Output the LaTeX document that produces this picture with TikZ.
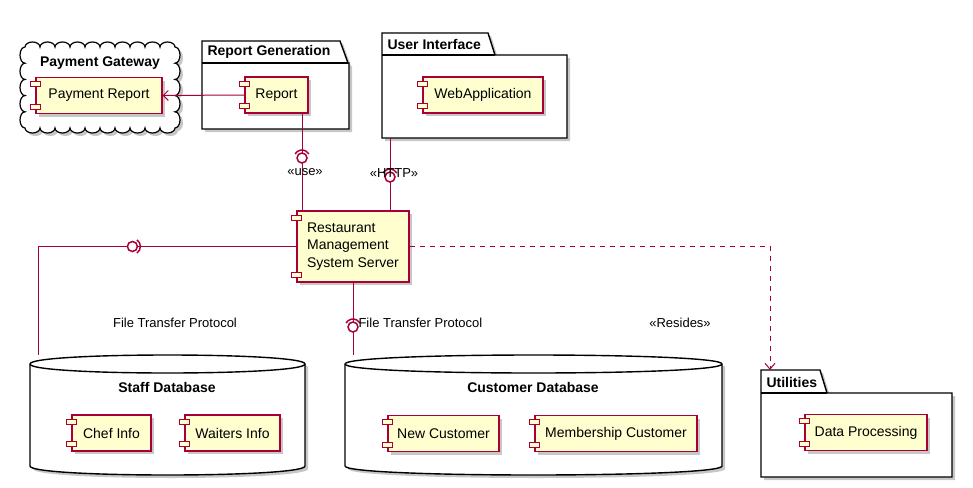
\documentclass[tikz,border=0pt]{standalone}
\usepackage{fontspec}
\setmainfont{Liberation Sans}
\usetikzlibrary{arrows.meta,calc,shadows}
\definecolor{umlred}{HTML}{A80036}
\definecolor{umlfill}{HTML}{FEFECE}
\tikzset{
  every node/.append style={font=\fontsize{14}{17.5}\selectfont},
  umlshadow/.style={drop shadow={shadow xshift=3pt,shadow yshift=-3pt,fill=black,opacity=0.22}},
  comp/.style={draw=umlred,fill=umlfill,line width=1.2pt,minimum height=36pt,inner sep=0pt,umlshadow},
  plug/.style={draw=umlred,fill=umlfill,line width=1pt},
  pkg/.style={draw=black,fill=white,line width=1.4pt,umlshadow},
  title/.style={font=\bfseries\fontsize{14}{17}\selectfont},
  lbl/.style={font=\fontsize{13}{16}\selectfont},
  wire/.style={umlred,line width=1pt},
  lolly/.style={umlred,line width=1.5pt},
}
\newcommand{\plugs}[1]{%
  \draw[plug] ($(#1.north west)+(-5,5)$) rectangle +(10,5);
  \draw[plug] ($(#1.south west)+(-5,-10)$) rectangle +(10,5);}

\begin{document}
\begin{tikzpicture}[x=1pt,y=-1pt,>=Stealth]
  \useasboundingbox (0,0) rectangle (973,487);
  % containers
  \draw[pkg,line width=1.2pt] (25,47)
    \foreach \i in {1,...,10}{ arc[start angle=180,end angle=0,x radius=7.5pt,y radius=5pt] }
    \foreach \i in {1,...,5}{ arc[start angle=90,end angle=-90,x radius=5pt,y radius=8.1pt] }
    \foreach \i in {1,...,10}{ arc[start angle=0,end angle=-180,x radius=7.5pt,y radius=5pt] }
    \foreach \i in {1,...,5}{ arc[start angle=-90,end angle=-270,x radius=5pt,y radius=8.1pt] }
    -- cycle;
  \node[title] (pgTitle) at (100,63) {Payment Gateway};

  \draw[pkg] (202,41) -- (340,41) -- (348,63) -- (349,63) -- (349,129) -- (202,129) -- cycle;
  \draw[line width=1.4pt] (202,63) -- (348,63);
  \node[title,anchor=west] (rgTitle) at (204,52) {Report Generation};

  \draw[pkg] (382,33) -- (488,33) -- (495,55) -- (567,55) -- (567,138) -- (382,138) -- cycle;
  \draw[line width=1.4pt] (382,55) -- (495,55);
  \node[title,anchor=west] (uiTitle) at (384,44) {User Interface};

  \draw[pkg] (761,370) -- (820,370) -- (827,393) -- (952,393) -- (952,477) -- (761,477) -- cycle;
  \draw[line width=1.4pt] (761,393) -- (827,393);
  \node[title,anchor=west] (utTitle) at (763,382) {Utilities};

  \draw[pkg] (30,364) -- (30,466) .. controls (30,478) and (305,478) .. (305,466)
    -- (305,364) .. controls (305,352) and (30,352) .. (30,364) -- cycle;
  \draw[line width=1.4pt] (30,364) .. controls (30,376) and (305,376) .. (305,364);
  \node[title] (sdTitle) at (167,387) {Staff Database};

  \draw[pkg] (345,364) -- (345,466) .. controls (345,478) and (722,478) .. (722,466)
    -- (722,364) .. controls (722,352) and (345,352) .. (345,364) -- cycle;
  \draw[line width=1.4pt] (345,364) .. controls (345,376) and (722,376) .. (722,364);
  \node[title] (cdTitle) at (533,387) {Customer Database};

  % components
  \node[comp,minimum width=126pt] (payrep) at (99,95.5) {Payment Report};
  \node[comp,minimum width=63pt] (report) at (276.5,95) {Report};
  \node[comp,minimum width=120pt] (webapp) at (483,95) {WebApplication};
  \node[comp,minimum width=112pt,minimum height=71pt,align=left] (server) at (353,246.5)
    {Restaurant\\Management\\System Server};
  \node[comp,minimum width=79pt] (chef) at (111.5,433) {Chef Info};
  \node[comp,minimum width=95pt] (waiters) at (232.5,433) {Waiters Info};
  \node[comp,minimum width=111pt] (newcust) at (443.5,433.5) {New Customer};
  \node[comp,minimum width=162pt] (member) at (616,433.5) {Membership Customer};
  \node[comp,minimum width=122pt] (dataproc) at (866,432.5) {Data Processing};
  \foreach \c in {payrep,report,webapp,server,chef,waiters,newcust,member,dataproc}
    {\plugs{\c}}

  % connectors
  \coordinate (useC) at (302,158);
  \coordinate (httpC) at (390,177);
  \coordinate (uiBottom) at (390,138);
  \coordinate (ftpL) at ($(server.west)+(-164,0)$);
  \coordinate (staffTop) at (38,355);
  \coordinate (ftpB) at (353,327);
  \coordinate (custTop) at (353,355);
  \coordinate (utilTop) at (770,370);

  \draw[wire,-{Straight Barb[length=5pt,width=10pt]}] (report.west) -- (payrep.east);
  \draw[wire] (report.south -| useC) -- (useC |- server.north);
  \draw[wire] (uiBottom) -- (uiBottom |- server.north);
  \draw[wire] (server.west) -| (staffTop);
  \draw[wire] (server.south) -- (custTop);
  \draw[wire,dash pattern=on 5pt off 5pt,-{Straight Barb[length=6pt,width=10pt]}]
    (server.east) -| (utilTop);

  % lollipops
  \foreach \p in {useC,httpC,ftpB}{
    \draw[lolly,fill=white] (\p) circle (5pt);
    \draw[lolly] ($(\p)+(150:8pt)$) arc[start angle=150,end angle=30,radius=8pt];
  }
  \draw[lolly,fill=white] (ftpL) circle (5pt);
  \draw[lolly] ($(ftpL)+(-55:8pt)$) arc[start angle=-55,end angle=55,radius=8pt];

  % labels
  \node[lbl] (useLbl) at (305,172) {«use»};
  \node[lbl] (httpLbl) at (394,173) {«HTTP»};
  \node[lbl] (ftpLLbl) at (175,323) {File Transfer Protocol};
  \node[lbl,anchor=west] (ftpBLbl) at (355,323) {File Transfer Protocol};
  \node[lbl] (residesLbl) at (680,323) {«Resides»};
\end{tikzpicture}
\end{document}
